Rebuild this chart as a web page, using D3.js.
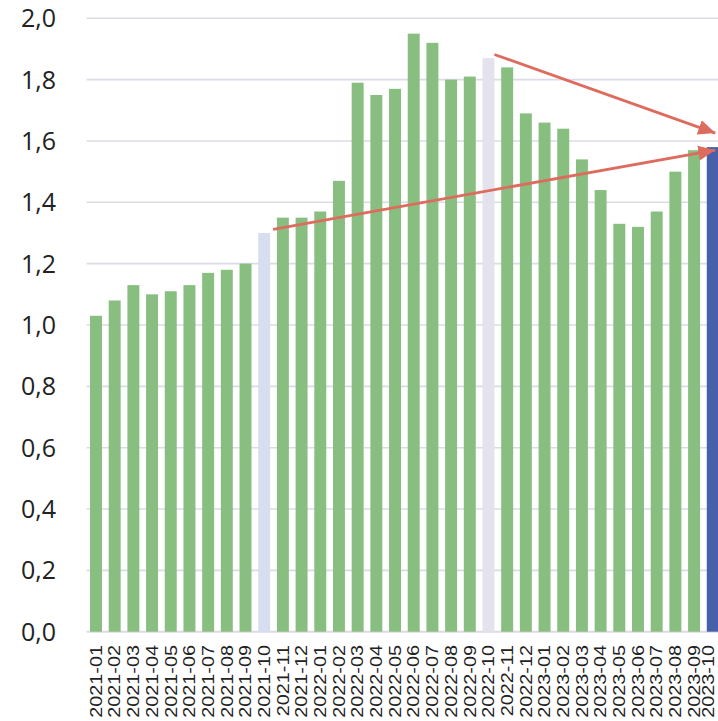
<!DOCTYPE html>
<html>
<head>
<meta charset="utf-8">
<script src="https://cdn.jsdelivr.net/npm/d3@7"></script>
<style>
  html, body { margin: 0; padding: 0; background: #ffffff; overflow: hidden; }
  svg { display: block; }
</style>
</head>
<body>
<svg id="chart" width="718" height="721"></svg>
<script>
// ---- data ----
const categories = [
  "2021-01","2021-02","2021-03","2021-04","2021-05","2021-06","2021-07","2021-08","2021-09","2021-10",
  "2021-11","2021-12","2022-01","2022-02","2022-03","2022-04","2022-05","2022-06","2022-07","2022-08",
  "2022-09","2022-10","2022-11","2022-12","2023-01","2023-02","2023-03","2023-04","2023-05","2023-06",
  "2023-07","2023-08","2023-09","2023-10"
];
const values = [
  1.03, 1.08, 1.13, 1.10, 1.11, 1.13, 1.17, 1.18, 1.20, 1.30,
  1.35, 1.35, 1.37, 1.47, 1.79, 1.75, 1.77, 1.95, 1.92, 1.80,
  1.81, 1.87, 1.84, 1.69, 1.66, 1.64, 1.54, 1.44, 1.33, 1.32,
  1.37, 1.50, 1.57, 1.58
];
// highlighted months: reference months and the latest month
const highlightPrev2 = "2021-10";
const highlightPrev1 = "2022-10";
const highlightCurrent = "2023-10";
const yTicks = [0, 0.2, 0.4, 0.6, 0.8, 1.0, 1.2, 1.4, 1.6, 1.8, 2.0];
// arrows: from a reference month to the latest month
const arrowsFrom = ["2022-10", "2021-10"];
const arrowTo = "2023-10";

// ---- styles ----
const colGreen = "#88bf81";
const colPrev2 = "#d6deef";
const colPrev1 = "#e3e2ed";
const colCurrent = "#4661a9";
const colGrid = "#dcdae6";
const colArrow = "#dd6b5e";

const svg = d3.select("#chart");

const x = d3.scaleBand()
  .domain(categories)
  .range([86.65, 722.1])
  .paddingInner(0.36)
  .paddingOuter(0.18);

const y = d3.scaleLinear()
  .domain([0, 2])
  .range([631.7, 18.3]);

// gridlines
svg.append("g")
  .selectAll("line")
  .data(yTicks)
  .join("line")
  .attr("x1", 86.65)
  .attr("x2", 718)
  .attr("y1", d => y(d))
  .attr("y2", d => y(d))
  .attr("stroke", colGrid)
  .attr("stroke-width", d => d === 0 ? 2 : 1.6);

// y axis labels
const fmt = d => d3.format(".1f")(d).replace(".", ",");
svg.append("g")
  .selectAll("text")
  .data(yTicks)
  .join("text")
  .attr("x", 56)
  .attr("y", d => y(d))
  .attr("dy", "0.36em")
  .attr("text-anchor", "end")
  .attr("font-family", "'Open Sans', 'Noto Sans', sans-serif")
  .attr("font-size", 25)
  .attr("fill", "#222222")
  .text(fmt);

// bars
const data = categories.map((c, i) => ({ c, v: values[i] }));
function barColor(c) {
  if (c === highlightCurrent) return colCurrent;
  if (c === highlightPrev1) return colPrev1;
  if (c === highlightPrev2) return colPrev2;
  return colGreen;
}
svg.append("g")
  .selectAll("rect")
  .data(data)
  .join("rect")
  .attr("x", d => x(d.c))
  .attr("y", d => y(d.v))
  .attr("width", x.bandwidth())
  .attr("height", d => y(0) - y(d.v))
  .attr("fill", d => barColor(d.c));

// x axis labels (rotated)
svg.append("g")
  .selectAll("text")
  .data(categories)
  .join("text")
  .attr("transform", d => `translate(${Math.min(x(d) + x.bandwidth() / 2, 708)},645) rotate(-90) scale(1.24,1)`)
  .attr("dy", "0.36em")
  .attr("text-anchor", "end")
  .attr("font-family", "'Liberation Sans', Arial, sans-serif")
  .attr("font-size", 16)
  .attr("fill", "#222222")
  .text(d => d);

// arrows
const defs = svg.append("defs");
defs.append("marker")
  .attr("id", "arrowhead")
  .attr("markerUnits", "userSpaceOnUse")
  .attr("markerWidth", 18)
  .attr("markerHeight", 16)
  .attr("refX", 17)
  .attr("refY", 8)
  .attr("orient", "auto")
  .append("path")
  .attr("d", "M0,0.5 L17,8 L0,15.5 Z")
  .attr("fill", colArrow);

const toIdx = categories.indexOf(arrowTo);
const toX = x(arrowTo) + 8.5;
const toV = values[toIdx];
const arrowSpecs = arrowsFrom.map((c, k) => {
  const v = values[categories.indexOf(c)];
  return {
    x1: x(c) + x.bandwidth() + (k === 0 ? 0 : 3),
    y1: y(v) - 3.7,
    x2: toX,
    y2: k === 0 ? y(toV) - 14 : y(toV) + 3
  };
});
svg.append("g")
  .selectAll("line")
  .data(arrowSpecs)
  .join("line")
  .attr("x1", d => d.x1)
  .attr("y1", d => d.y1)
  .attr("x2", d => d.x2)
  .attr("y2", d => d.y2)
  .attr("stroke", colArrow)
  .attr("stroke-width", 2.8)
  .attr("marker-end", "url(#arrowhead)");
</script>
</body>
</html>
